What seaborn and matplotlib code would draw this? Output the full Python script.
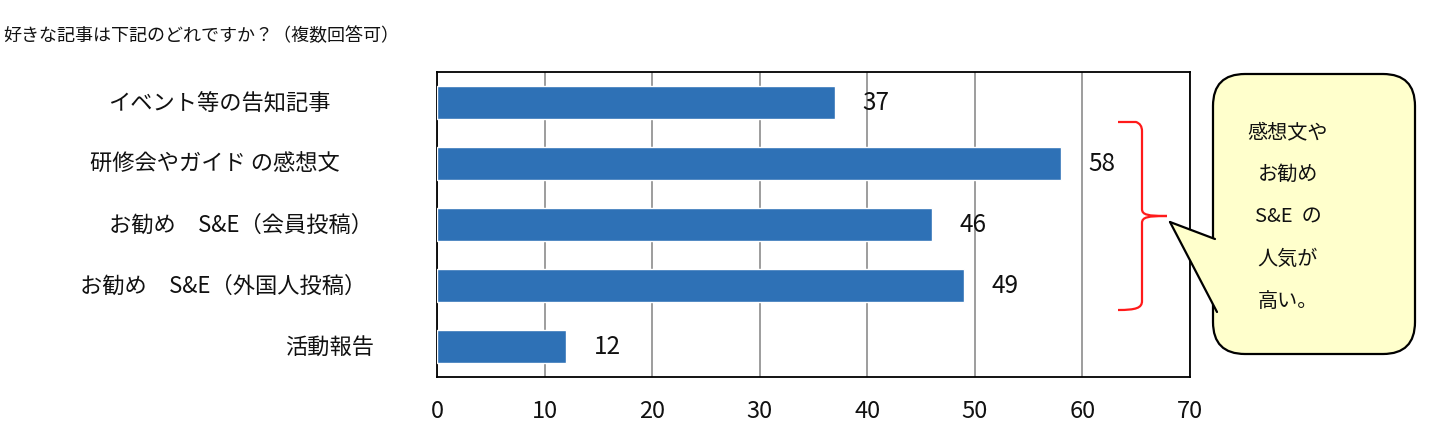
import matplotlib
matplotlib.use('Agg')
import matplotlib.pyplot as plt
import matplotlib.transforms as mtransforms
from matplotlib.patches import FancyBboxPatch, Polygon, PathPatch
from matplotlib.path import Path
import seaborn as sns
import pandas as pd

title = '好きな記事は下記のどれですか？（複数回答可）'
categories = ['イベント等の告知記事', '研修会やガイド の感想文', 'お勧め　S&E（会員投稿）',
              'お勧め　S&E（外国人投稿）', '活動報告']
counts = [37, 58, 46, 49, 12]
x_ticks = [0, 10, 20, 30, 40, 50, 60, 70]
callout_text = '感想文や\nお勧め\nS&E  の\n人気が\n高い。'

W, H = 1432, 431
sns.set_theme(style='white')
plt.rcParams['font.family'] = ['Noto Sans CJK JP', 'DejaVu Sans']

df = pd.DataFrame({'item': categories, 'count': counts})

fig = plt.figure(figsize=(W / 100, H / 100), dpi=100)
ax = fig.add_axes([437 / W, 1 - 378 / H, (1190 - 437) / W, (378 - 73) / H])
sns.barplot(data=df, x='count', y='item', orient='h', color='#2E71B6', width=0.53,
            saturation=1, ax=ax, zorder=3)
ax.set_xlim(0, 70)
ax.set_xticks(x_ticks)
ax.set_xlabel('')
ax.set_ylabel('')
ax.grid(axis='x', color='#8c8c8c', lw=1.2, zorder=0)
ax.grid(axis='y', visible=False)
for s in ax.spines.values():
    s.set_color('black')
    s.set_linewidth(1.3)
ax.tick_params(axis='x', length=0, pad=16, labelsize=17, colors='#111111')
ax.tick_params(axis='y', length=0)
ax.bar_label(ax.containers[0], padding=20, fontsize=17.5, color='#111111')

# category labels placed like the original (centered at varying positions)
ax.set_yticklabels([])
label_x = [219, 215, 241, 223, 330]
trans = mtransforms.blended_transform_factory(fig.transFigure, ax.transData)
for i, (lab, lx) in enumerate(zip(categories, label_x)):
    ax.text(lx / W, i, lab, transform=trans, ha='center', va='center',
            fontsize=16, color='#111111')

fig.text(3 / W, 1 - 36 / H, title, ha='left', va='center', fontsize=13, color='#111111')

# overlay in pixel coordinates for brace and callout
ov = fig.add_axes([0, 0, 1, 1], zorder=5)
ov.set_xlim(0, W)
ov.set_ylim(H, 0)
ov.axis('off')

verts = [(1118, 123), (1136, 123), (1142, 125), (1142, 132),
         (1142, 210),
         (1142, 216), (1148, 217), (1167, 217),
         (1148, 217), (1142, 218), (1142, 224),
         (1142, 302),
         (1142, 309), (1136, 311), (1118, 311)]
codes = [Path.MOVETO, Path.LINETO, Path.CURVE3, Path.CURVE3,
         Path.LINETO,
         Path.CURVE4, Path.CURVE4, Path.CURVE4,
         Path.CURVE4, Path.CURVE4, Path.CURVE4,
         Path.LINETO,
         Path.CURVE4, Path.CURVE4, Path.CURVE4]
ov.add_patch(PathPatch(Path(verts, codes), fc='none', ec='#FF1A1A', lw=1.6))

box = FancyBboxPatch((1213, 75), 1415 - 1213, 355 - 75,
                     boxstyle='round,pad=0,rounding_size=32',
                     fc='#FFFFCC', ec='black', lw=1.6)
ov.add_patch(box)
ov.add_patch(Polygon([(1170, 223), (1215, 240), (1228, 240), (1228, 313), (1217, 313)],
                     closed=True, fc='#FFFFCC', ec='none'))
ov.plot([1170, 1215], [223, 240], color='black', lw=1.6)
ov.plot([1170, 1217], [223, 313], color='black', lw=1.6)
ov.text(1288, 217, callout_text, ha='center', va='center', fontsize=14.5,
        linespacing=2.32, color='#111111')

fig.savefig('out.png', dpi=100)
